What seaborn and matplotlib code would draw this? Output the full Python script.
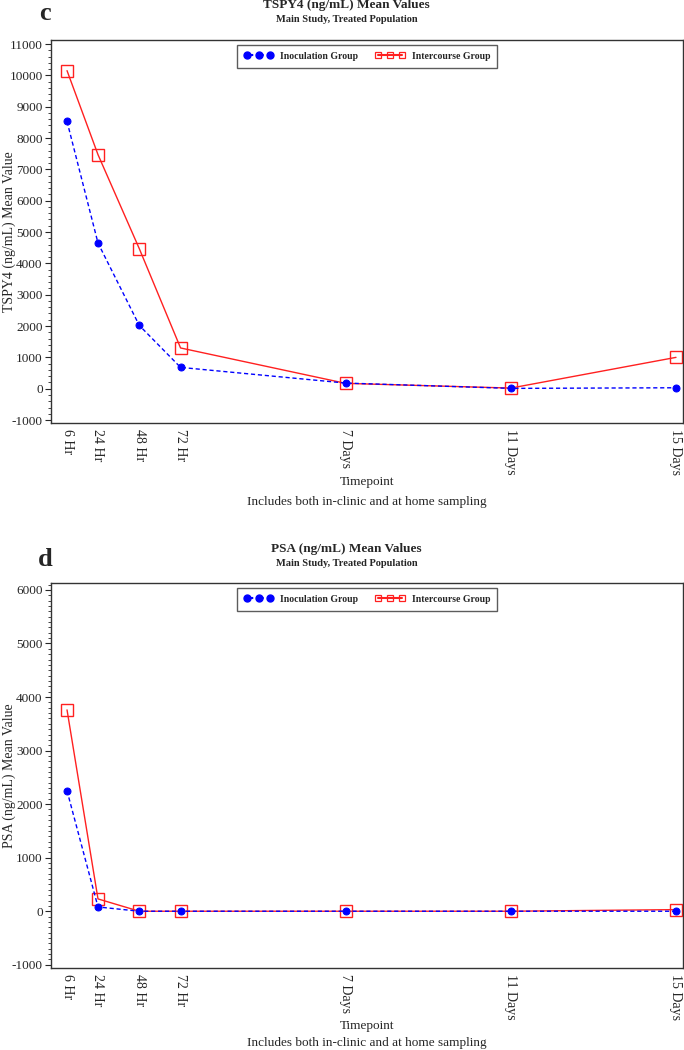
import matplotlib
matplotlib.use("Agg")
import matplotlib.pyplot as plt
import seaborn as sns
import pandas as pd
from matplotlib.ticker import AutoMinorLocator, MultipleLocator
from matplotlib.lines import Line2D

sns.set_theme(style="ticks")
plt.rcParams['font.family'] = ['Liberation Serif', 'DejaVu Serif']
plt.rcParams['axes.unicode_minus'] = False

timepoint_hours = [6, 24, 48, 72, 168, 264, 360]
timepoint_labels = ["6 Hr", "24 Hr", "48 Hr", "72 Hr", "7 Days", "11 Days", "15 Days"]
groups = ["Inoculation Group", "Intercourse Group"]

tspy4_inoculation = [8530, 4650, 2020, 680, 180, 10, 30]
tspy4_intercourse = [10150, 7470, 4470, 1300, 170, 20, 1000]
psa_inoculation = [2250, 80, 0, 0, 0, 0, 0]
psa_intercourse = [3760, 230, 0, 0, 0, 0, 30]

BLUE = "#0000ff"
RED = "#ff2020"

fig = plt.figure(figsize=(6.84, 10.5), dpi=100)
ax1 = fig.add_axes([0.0746, 0.5971, 0.924, 0.3648])
ax2 = fig.add_axes([0.0746, 0.0781, 0.924, 0.3667])


def panel(ax, inoc, inter, ylabel, ylim, minor):
    df = pd.DataFrame({
        "hour": timepoint_hours * 2,
        "value": inoc + inter,
        "group": [groups[0]] * len(inoc) + [groups[1]] * len(inter),
    })
    sns.lineplot(data=df[df.group == groups[0]], x="hour", y="value", ax=ax,
                 color=BLUE, linestyle=(0, (3, 2)), linewidth=1.0,
                 marker="o", markersize=5, markeredgecolor=BLUE,
                 markerfacecolor=BLUE, legend=False, zorder=3)
    sns.lineplot(data=df[df.group == groups[1]], x="hour", y="value", ax=ax,
                 color=RED, linestyle="-", linewidth=1.0,
                 marker="s", markersize=8.5, markeredgecolor=RED,
                 markerfacecolor="none", markeredgewidth=1.0, legend=False, zorder=2)
    ax.set_xlim(-3.3, 364.1)
    ax.set_ylim(*ylim)
    ax.set_xticks(timepoint_hours)
    ax.set_xticklabels(timepoint_labels, rotation=270, fontsize=10)
    ax.tick_params(axis="x", length=0, pad=4)
    ax.yaxis.set_major_locator(MultipleLocator(1000))
    ax.yaxis.set_minor_locator(AutoMinorLocator(minor))
    ax.tick_params(axis="y", which="major", length=4, width=0.8, labelsize=9.5, pad=2)
    ax.tick_params(axis="y", which="minor", length=2, width=0.6)
    ax.set_ylabel(ylabel, fontsize=10)
    ax.yaxis.set_label_coords(-0.0554, 0.5)
    ax.set_xlabel("")
    for s in ax.spines.values():
        s.set_linewidth(1.0)
        s.set_color("#333333")
    handles = [
        Line2D([], [], color=BLUE, linestyle=(0, (3, 2)), marker="o", markersize=5),
        Line2D([], [], color=RED, linestyle="-", marker="s", markersize=4.5,
               markerfacecolor="none", markeredgewidth=0.9),
    ]
    leg = ax.legend(handles, groups, loc="upper center", bbox_to_anchor=(0.5, 0.988),
                    borderaxespad=0, ncol=2, numpoints=3, frameon=True, fancybox=False,
                    prop={"size": 7, "weight": "bold"}, handlelength=3.0,
                    columnspacing=1.8, borderpad=0.75, handletextpad=0.7)
    leg.get_frame().set_edgecolor("#333333")
    leg.get_frame().set_linewidth(1.0)


panel(ax1, tspy4_inoculation, tspy4_intercourse, "TSPY4 (ng/mL) Mean Value", (-1096, 11128), 5)
panel(ax2, psa_inoculation, psa_intercourse, "PSA (ng/mL) Mean Value", (-1060, 6130), 10)

# Panel c texts
fig.text(0.066, 0.9867, "c", fontsize=19, fontweight="bold", ha="center", va="center")
fig.text(0.507, 0.9950, "TSPY4 (ng/mL) Mean Values", fontsize=9.5, fontweight="bold", ha="center", va="center")
fig.text(0.507, 0.9819, "Main Study, Treated Population", fontsize=7.5, fontweight="bold", ha="center", va="center")
fig.text(0.5365, 0.5410, "Timepoint", fontsize=9.5, ha="center", va="center")
fig.text(0.5365, 0.5220, "Includes both in-clinic and at home sampling", fontsize=9.5, ha="center", va="center")

# Panel d texts
fig.text(0.066, 0.4667, "d", fontsize=19, fontweight="bold", ha="center", va="center")
fig.text(0.507, 0.4771, "PSA (ng/mL) Mean Values", fontsize=9.5, fontweight="bold", ha="center", va="center")
fig.text(0.507, 0.4638, "Main Study, Treated Population", fontsize=7.5, fontweight="bold", ha="center", va="center")
fig.text(0.5365, 0.0224, "Timepoint", fontsize=9.5, ha="center", va="center")
fig.text(0.5365, 0.0067, "Includes both in-clinic and at home sampling", fontsize=9.5, ha="center", va="center")

fig.savefig("out.png", dpi=100)
